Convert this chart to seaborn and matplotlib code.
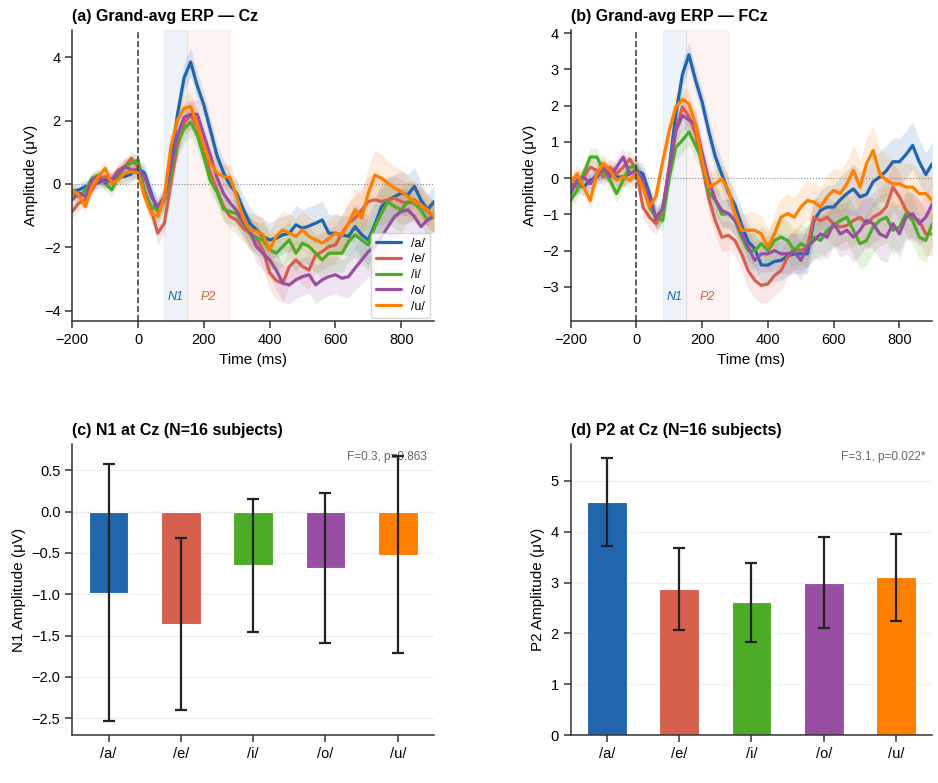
import numpy as np
import pandas as pd
import matplotlib
matplotlib.use("Agg")
import matplotlib.pyplot as plt
import matplotlib.transforms as mtransforms
import seaborn as sns

# Echantillons temporels (ms)
times = list(range(-200, 901, 20))
vowels = ['/a/', '/e/', '/i/', '/o/', '/u/']
colors = ['#2166ac', '#d6604d', '#4dac26', '#984ea3', '#ff7f00']

# Grand-average Cz (µV)
cz_a = [-0.24, -0.19, -0.08, -0.03, 0.04, 0.13, 0.15, 0.23, 0.23, 0.32,
        0.49, 0.34, -0.29, -0.87, -0.5, 0.7, 2.2, 3.35, 3.85, 3.1,
        2.5, 1.7, 0.9, 0.35, -0.05, -0.3, -0.8, -1.25, -1.45, -1.66,
        -1.77, -1.72, -1.61, -1.56, -1.29, -1.4, -1.33, -1.24, -1.14, -1.56,
        -1.56, -1.61, -1.66, -1.35, -1.61, -1.77, -1.29, -0.72, -0.51, -0.4,
        -0.29, -0.35, -0.08, -0.51, -0.82, -0.56]
cz_e = [-0.87, -0.61, -0.5, -0.19, 0.13, 0.23, 0.13, 0.44, 0.55, 0.81,
        0.55, -0.19, -0.82, -1.56, -1.24, 0.02, 1.18, 1.92, 2.18, 1.81,
        1.07, 0.34, -0.19, -0.72, -1.03, -1.14, -1.4, -1.56, -1.7, -2.1,
        -2.8, -3.05, -3.14, -2.61, -2.4, -2.61, -2.72, -2.24, -2.14, -1.98,
        -1.93, -1.56, -1.24, -1.08, -0.82, -0.56, -0.5, -0.56, -0.5, -0.45,
        -0.56, -0.61, -0.5, -0.66, -0.87, -1.03]
cz_i = [-0.29, -0.4, -0.19, 0.18, 0.28, 0.02, -0.19, 0.23, 0.55, 0.65,
        0.76, -0.3, -0.7, -0.85, -0.5, 0.3, 1.3, 1.75, 1.95, 1.55,
        0.85, 0.1, -0.25, -0.8, -0.87, -0.95, -1.24, -1.56, -1.72, -1.77,
        -2.08, -2.19, -1.98, -1.77, -2.19, -1.87, -1.98, -2.19, -2.4, -2.19,
        -2.19, -2.19, -1.82, -1.61, -1.77, -1.93, -1.35, -0.93, -0.56, -0.72,
        -0.82, -0.56, -0.61, -0.82, -1.14, -1.03]
cz_o = [-0.5, -0.29, -0.4, 0.13, 0.23, 0.02, 0.13, 0.34, 0.55, 0.44,
        0.44, 0.23, -0.4, -0.72, -0.4, 0.5, 1.55, 2.1, 2.2, 2.2,
        1.55, 0.9, 0.2, -0.3, -0.6, -0.85, -1.2, -1.5, -1.98, -2.2,
        -2.4, -2.72, -3.14, -3.19, -3.03, -2.93, -2.87, -3.19, -3.03, -2.93,
        -2.87, -2.98, -2.93, -2.66, -2.4, -2.14, -1.98, -1.66, -1.35, -1.03,
        -0.87, -0.82, -1.03, -1.35, -1.14, -0.98]
cz_u = [-0.19, -0.35, -0.72, -0.08, 0.23, 0.49, 0.02, 0.13, 0.34, 0.39,
        0.34, -0.4, -0.93, -1.03, -0.4, 1.18, 2.02, 2.39, 2.44, 1.9,
        1.2, 0.65, 0.35, 0.23, 0.2, -0.4, -1.1, -1.45, -1.5, -1.6,
        -2.08, -1.66, -1.45, -1.56, -1.66, -1.45, -1.66, -1.77, -1.87, -1.72,
        -1.56, -1.61, -1.24, -0.82, -1.08, -0.29, 0.28, 0.18, 0.02, -0.14,
        -0.24, -0.4, -0.56, -0.66, -0.82, -1.03]
sem_cz = [0.22, 0.22, 0.2, 0.2, 0.2, 0.22, 0.22, 0.22, 0.25, 0.25,
          0.25, 0.28, 0.3, 0.35, 0.35, 0.35, 0.4, 0.45, 0.45, 0.45,
          0.4, 0.4, 0.4, 0.4, 0.4, 0.45, 0.45, 0.5, 0.5, 0.55,
          0.55, 0.6, 0.6, 0.6, 0.6, 0.6, 0.6, 0.6, 0.6, 0.6,
          0.6, 0.6, 0.65, 0.7, 0.75, 0.8, 0.8, 0.75, 0.7, 0.7,
          0.7, 0.65, 0.6, 0.55, 0.5, 0.5]

# Grand-average FCz (µV)
fcz_a = [-0.2, -0.16, -0.25, -0.06, 0.03, 0.21, 0.12, 0.03, 0.03, 0.12,
         0.21, 0.12, -0.43, -1.15, -0.9, 0.3, 1.75, 2.85, 3.4, 2.7,
         2.1, 1.3, 0.6, 0.1, -0.4, -0.75, -1.3, -1.75, -1.95, -2.4,
         -2.4, -2.3, -2.27, -2.15, -2.09, -2.09, -2.09, -1.17, -0.89, -0.8,
         -0.8, -0.6, -0.43, -0.3, -0.52, -0.45, -0.1, 0.03, 0.2, 0.45,
         0.45, 0.65, 0.9, 0.45, 0.1, 0.4]
fcz_e = [-0.16, -0.25, 0.03, 0.3, 0.21, 0.03, 0.3, 0.12, 0.3, 0.53,
         0.21, -0.8, -1.08, -1.26, -0.9, 0.3, 1.3, 1.96, 1.7, 1.22,
         0.35, -0.55, -1.17, -1.63, -1.58, -1.72, -2.09, -2.55, -2.82, -2.96,
         -2.92, -2.69, -2.55, -2.18, -1.95, -2.0, -1.9, -1.08, -1.17, -1.08,
         -1.26, -1.35, -1.31, -1.17, -1.08, -1.26, -1.08, -0.98, -0.8, -0.25,
         -0.52, -0.89, -1.08, -1.17, -1.54, -1.54]
fcz_i = [-0.62, -0.34, 0.12, 0.58, 0.58, 0.21, -0.06, -0.43, -0.06, 0.3,
         0.3, -0.16, -0.8, -1.08, -1.17, 0.0, 0.85, 1.04, 1.27, 0.9,
         0.5, -0.4, -0.6, -1.0, -0.98, -1.17, -1.63, -2.0, -2.0, -1.81,
         -2.0, -1.72, -1.63, -1.72, -2.0, -1.81, -1.9, -1.63, -1.72, -1.44,
         -1.31, -1.17, -1.08, -1.44, -1.81, -1.72, -1.35, -1.17, -1.08, -1.44,
         -1.35, -0.98, -1.17, -1.63, -1.72, -1.26]
fcz_o = [-0.43, -0.06, 0.03, -0.16, 0.12, 0.3, 0.03, 0.3, 0.58, 0.12,
         0.21, -0.06, -0.62, -1.08, -0.85, 0.2, 1.3, 1.73, 1.6, 1.5,
         0.7, -0.05, -0.6, -0.89, -0.98, -1.17, -1.54, -1.9, -2.27, -2.09,
         -2.09, -2.0, -2.09, -2.09, -2.04, -2.27, -1.9, -1.72, -1.54, -1.63,
         -1.26, -1.54, -1.44, -1.63, -1.44, -1.17, -1.26, -1.54, -1.63, -1.26,
         -1.54, -1.08, -0.98, -1.26, -1.08, -0.71]
fcz_u = [-0.16, 0.12, -0.25, -0.62, 0.12, 0.4, 0.21, -0.06, 0.03, -0.06,
         0.12, -0.25, -0.8, -0.5, 0.45, 1.3, 1.96, 2.17, 2.05, 1.5,
         0.5, -0.25, -0.16, -0.02, -0.34, -0.98, -1.44, -1.44, -1.44, -1.54,
         -1.9, -1.54, -1.08, -0.98, -1.08, -0.8, -0.62, -0.66, -0.8, -0.52,
         -0.34, -0.43, -0.16, 0.21, -0.25, 0.4, 0.76, 0.12, -0.06, -0.16,
         -0.16, -0.25, -0.25, -0.43, -0.43, -0.62]
sem_fcz = [0.25, 0.25, 0.25, 0.25, 0.25, 0.25, 0.25, 0.25, 0.25, 0.25,
           0.25, 0.3, 0.3, 0.3, 0.3, 0.3, 0.35, 0.35, 0.35, 0.35,
           0.35, 0.4, 0.4, 0.4, 0.4, 0.4, 0.45, 0.5, 0.5, 0.5,
           0.5, 0.55, 0.55, 0.55, 0.55, 0.55, 0.55, 0.55, 0.55, 0.6,
           0.6, 0.65, 0.65, 0.7, 0.7, 0.7, 0.7, 0.7, 0.7, 0.65,
           0.65, 0.65, 0.65, 0.6, 0.6, 0.6]

# Amplitudes par composante (moyenne et erreur)
n1_mean = [-0.98, -1.36, -0.65, -0.68, -0.52]
n1_err = [1.55, 1.045, 0.805, 0.91, 1.195]
p2_mean = [4.59, 2.88, 2.61, 3.00, 3.11]
p2_err = [0.865, 0.81, 0.78, 0.90, 0.855]

sns.set_theme(style="ticks")
plt.rcParams['font.family'] = ['Arial', 'Liberation Sans', 'DejaVu Sans']
plt.rcParams['axes.edgecolor'] = '#333333'
plt.rcParams['axes.linewidth'] = 1.1
plt.rcParams['xtick.color'] = '#333333'
plt.rcParams['ytick.color'] = '#333333'
plt.rcParams['xtick.labelcolor'] = 'black'
plt.rcParams['ytick.labelcolor'] = 'black'
plt.rcParams['text.color'] = 'black'
plt.rcParams['axes.labelcolor'] = 'black'
plt.rcParams['axes.titlecolor'] = 'black'

fig, axes = plt.subplots(2, 2, figsize=(9.38, 7.83), dpi=100)
fig.subplots_adjust(left=0.077, right=0.994, top=0.962, bottom=0.061,
                    wspace=0.377, hspace=0.42)


def erp_panel(ax, waves, sem, title, ylim, yticks, show_legend):
    t = np.array(times)
    rows = []
    for v, w in zip(vowels, waves):
        rows.append(pd.DataFrame({'time': times, 'amp': w, 'vowel': v}))
    df = pd.concat(rows, ignore_index=True)

    ax.axvspan(80, 150, color='#2166ac', alpha=0.08, lw=0.8)
    ax.axvspan(150, 280, color='#d6604d', alpha=0.07, lw=0.8)
    for w, c in zip(waves, colors):
        w = np.array(w)
        ax.fill_between(t, w - np.array(sem), w + np.array(sem), color=c, alpha=0.15, lw=0)
    sns.lineplot(data=df, x='time', y='amp', hue='vowel', palette=colors,
                 linewidth=2.3, ax=ax, legend=show_legend, errorbar=None)
    ax.axhline(0, color='#888888', ls=':', lw=0.8, zorder=0)
    ax.axvline(0, color='#444444', ls='--', lw=1.2)
    trans = mtransforms.blended_transform_factory(ax.transData, ax.transAxes)
    ax.text(115, 0.083, 'N1', color='#2166ac', style='italic', fontsize=9,
            ha='center', va='center', transform=trans)
    ax.text(215, 0.083, 'P2', color='#d6604d', style='italic', fontsize=9,
            ha='center', va='center', transform=trans)
    ax.set_xlim(-200, 900)
    ax.set_ylim(*ylim)
    ax.set_xticks([-200, 0, 200, 400, 600, 800])
    ax.set_yticks(yticks)
    ax.set_xlabel('Time (ms)', fontsize=11)
    ax.set_ylabel('Amplitude (μV)', fontsize=11)
    ax.set_title(title, loc='left', fontweight='bold', fontsize=11.5)
    ax.tick_params(labelsize=10.5, length=5, width=1.1)
    if show_legend:
        ax.legend(loc='lower right', fontsize=9, frameon=True, handlelength=2,
                  borderaxespad=0.3, labelspacing=0.3, title=None)
    sns.despine(ax=ax)


def bar_panel(ax, means, errs, title, ylabel, ylim, yticks, stat):
    ax.yaxis.grid(True, color='#eeeeee', lw=0.8)
    ax.set_axisbelow(True)
    ax.axhline(0, color='#999999', ls=':', lw=0.9, zorder=0)
    sns.barplot(x=vowels, y=means, hue=vowels, palette=colors, width=0.55,
                saturation=1, edgecolor='white', linewidth=0.8, legend=False, ax=ax)
    ax.errorbar(range(len(vowels)), means, yerr=errs, fmt='none', ecolor='#222222',
                elinewidth=1.6, capsize=4, capthick=1.6, zorder=5)
    ax.text(0.98, 0.953, stat, transform=ax.transAxes, ha='right', va='center',
            fontsize=8.5, color='#666666')
    ax.set_ylim(*ylim)
    ax.set_yticks(yticks)
    ax.set_ylabel(ylabel, fontsize=11)
    ax.set_xlabel('')
    ax.set_title(title, loc='left', fontweight='bold', fontsize=11.5)
    ax.tick_params(labelsize=10.5, length=5, width=1.1)
    sns.despine(ax=ax)


erp_panel(axes[0, 0], [cz_a, cz_e, cz_i, cz_o, cz_u], sem_cz,
          '(a) Grand-avg ERP — Cz', (-4.34, 4.87), [-4, -2, 0, 2, 4], True)
erp_panel(axes[0, 1], [fcz_a, fcz_e, fcz_i, fcz_o, fcz_u], sem_fcz,
          '(b) Grand-avg ERP — FCz', (-3.95, 4.09), [-3, -2, -1, 0, 1, 2, 3, 4], False)
bar_panel(axes[1, 0], n1_mean, n1_err, '(c) N1 at Cz (N=16 subjects)',
          'N1 Amplitude (μV)', (-2.705, 0.82), [-2.5, -2.0, -1.5, -1.0, -0.5, 0.0, 0.5],
          'F=0.3, p=0.863')
bar_panel(axes[1, 1], p2_mean, p2_err, '(d) P2 at Cz (N=16 subjects)',
          'P2 Amplitude (μV)', (0, 5.73), [0, 1, 2, 3, 4, 5],
          'F=3.1, p=0.022*')

fig.savefig('out.png', dpi=100)
